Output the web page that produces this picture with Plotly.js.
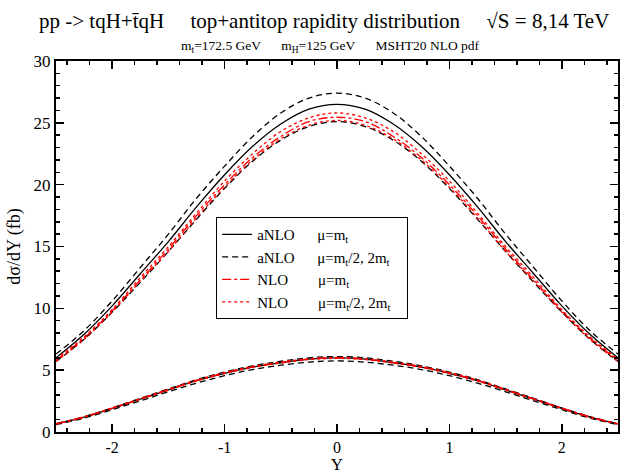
<!DOCTYPE html>
<html><head><meta charset="utf-8">
<script src="https://cdn.plot.ly/plotly-3.0.1.min.js"></script>
<style>body{margin:0;padding:0;background:#fff}#c{width:641px;height:474px}</style>
</head><body><div id="c"></div>
<script>
const Y = [-2.5,-2.25,-2.0,-1.75,-1.5,-1.25,-1.0,-0.75,-0.5,-0.25,0,0.25,0.5,0.75,1.0,1.25,1.5,1.75,2.0,2.25,2.5];

// upper group
const aNLO_hi_c  = [6.0,7.9,10.2,12.8,15.4,18.2,20.8,23.1,24.9,26.1,26.5,26.1,24.9,23.1,20.8,18.2,15.4,12.8,10.2,7.9,6.0];
const aNLO_hi_up = [6.3,8.2,10.6,13.3,16.0,18.9,21.5,23.9,25.8,27.0,27.4,27.0,25.8,23.9,21.5,18.9,16.0,13.3,10.6,8.2,6.3];
const aNLO_hi_dn = [5.7,7.5,9.7,12.1,14.6,17.2,19.7,21.9,23.6,24.7,25.1,24.7,23.6,21.9,19.7,17.2,14.6,12.1,9.7,7.5,5.7];
const NLO_hi_c   = [5.8,7.6,9.8,12.3,14.8,17.5,20.0,22.2,23.9,25.1,25.45,25.1,23.9,22.2,20.0,17.5,14.8,12.3,9.8,7.6,5.8];
const NLO_hi_up  = [5.9,7.7,9.9,12.5,15.0,17.7,20.3,22.5,24.3,25.4,25.8,25.4,24.3,22.5,20.3,17.7,15.0,12.5,9.9,7.7,5.9];
const NLO_hi_dn  = [5.7,7.5,9.7,12.2,14.6,17.3,19.8,22.0,23.7,24.8,25.2,24.8,23.7,22.0,19.8,17.3,14.6,12.2,9.7,7.5,5.7];

// lower group
const aNLO_lo_c  = [0.65,1.2,1.9,2.65,3.4,4.15,4.75,5.25,5.6,5.9,6.0,5.9,5.6,5.25,4.75,4.15,3.4,2.65,1.9,1.2,0.65];
const aNLO_lo_up = [0.68,1.24,1.95,2.72,3.48,4.23,4.85,5.35,5.72,6.0,6.1,6.0,5.72,5.35,4.85,4.23,3.48,2.72,1.95,1.24,0.68];
const aNLO_lo_dn = [0.6,1.12,1.8,2.52,3.25,3.95,4.55,5.05,5.4,5.65,5.75,5.65,5.4,5.05,4.55,3.95,3.25,2.52,1.8,1.12,0.6];
const NLO_lo_c   = [0.66,1.22,1.93,2.68,3.43,4.17,4.78,5.27,5.62,5.9,6.0,5.9,5.62,5.27,4.78,4.17,3.43,2.68,1.93,1.22,0.66];
const NLO_lo_up  = [0.67,1.23,1.95,2.7,3.45,4.2,4.8,5.3,5.65,5.92,6.03,5.92,5.65,5.3,4.8,4.2,3.45,2.7,1.95,1.23,0.67];
const NLO_lo_dn  = [0.64,1.19,1.9,2.64,3.38,4.12,4.72,5.22,5.57,5.85,5.95,5.85,5.57,5.22,4.72,4.12,3.38,2.64,1.9,1.19,0.64];

const S = '&#160;';
const names = ['aNLO' + S.repeat(6) + 'μ=m<sub>t</sub>',
               'aNLO' + S.repeat(6) + 'μ=m<sub>t</sub>/2, 2m<sub>t</sub>' + S.repeat(3),
               'NLO' + S.repeat(8) + 'μ=m<sub>t</sub>',
               'NLO' + S.repeat(8) + 'μ=m<sub>t</sub>/2, 2m<sub>t</sub>' + S.repeat(3)];

const sBlack = {color:'#000', width:1.3, shape:'spline'};
const sBlackD = {color:'#000', width:1.3, dash:'6px,4px', shape:'spline'};
const sRedDD = {color:'#ff0000', width:1.3, dash:'dashdot', shape:'spline'};
const sRedDot = {color:'#ff0000', width:1.3, dash:'dot', shape:'spline'};

function tr(y, line, name, grp, show){
  return {x:Y, y:y, type:'scatter', mode:'lines', line:line, name:name, legendgroup:grp, showlegend:show, hoverinfo:'skip'};
}
const data = [
  tr(aNLO_hi_c, sBlack, names[0], 'a', true),
  tr(aNLO_hi_up, sBlackD, names[1], 'b', true),
  tr(NLO_hi_c, sRedDD, names[2], 'c', true),
  tr(NLO_hi_up, sRedDot, names[3], 'd', true),
  tr(aNLO_hi_dn, sBlackD, names[1], 'b', false),
  tr(NLO_hi_dn, sRedDot, names[3], 'd', false),
  tr(aNLO_lo_c, sBlack, names[0], 'a', false),
  tr(aNLO_lo_up, sBlackD, names[1], 'b', false),
  tr(aNLO_lo_dn, sBlackD, names[1], 'b', false),
  tr(NLO_lo_c, sRedDD, names[2], 'c', false),
  tr(NLO_lo_up, sRedDot, names[3], 'd', false),
  tr(NLO_lo_dn, sRedDot, names[3], 'd', false)
];

const F = 'Liberation Serif';
const layout = {
  width:641, height:474,
  margin:{l:56, r:23, t:61, b:42},
  paper_bgcolor:'#fff', plot_bgcolor:'#fff',
  font:{family:F, size:17, color:'#000'},
  showlegend:true,
  legend:{x:0.285, y:0.579, xanchor:'left', yanchor:'top', bgcolor:'#fff', bordercolor:'#000', borderwidth:1,
          font:{family:F, size:15, color:'#000'}, tracegroupgap:0, itemwidth:30},
  xaxis:{range:[-2.5,2.5], tickvals:[-2,-1,0,1,2], ticktext:['-2','-1','0','1','2'],
         ticks:'inside', ticklen:8, tickwidth:1.5, tickcolor:'#000',
         showline:true, linecolor:'#000', linewidth:2, mirror:'allticks', showgrid:false, zeroline:false,
         minor:{dtick:0.2, ticks:'inside', ticklen:4, tickwidth:1.5, tickcolor:'#000', showgrid:false},
         title:{text:'Y', font:{family:F, size:17}, standoff:3}, tickfont:{family:F, size:16}},
  yaxis:{range:[0,30], tickvals:[0,5,10,15,20,25,30],
         ticks:'inside', ticklen:8, tickwidth:1.5, tickcolor:'#000',
         showline:true, linecolor:'#000', linewidth:2, mirror:'allticks', showgrid:false, zeroline:false,
         minor:{dtick:1, ticks:'inside', ticklen:4, tickwidth:1.5, tickcolor:'#000', showgrid:false},
         title:{text:'dσ/dY (fb)', font:{family:F, size:18}, standoff:8}, tickfont:{family:F, size:17}},
  annotations:[
    {text:'pp -&gt; tqH+t\u0304qH' + S.repeat(5) + 'top+antitop rapidity distribution' + S.repeat(5) + '√S = 8,14 TeV',
     xref:'paper', yref:'paper', x:0.477, y:1.108, xanchor:'center', yanchor:'middle', showarrow:false,
     font:{family:F, size:21, color:'#000'}},
    {text:'m<sub>t</sub>=172.5 GeV' + S.repeat(6) + 'm<sub>H</sub>=125 GeV' + S.repeat(6) + 'MSHT20 NLO pdf',
     xref:'paper', yref:'paper', x:0.488, y:1.04, xanchor:'center', yanchor:'middle', showarrow:false,
     font:{family:F, size:13.5, color:'#000'}}
  ]
};
Plotly.newPlot('c', data, layout, {staticPlot:true, displayModeBar:false});
</script></body></html>
